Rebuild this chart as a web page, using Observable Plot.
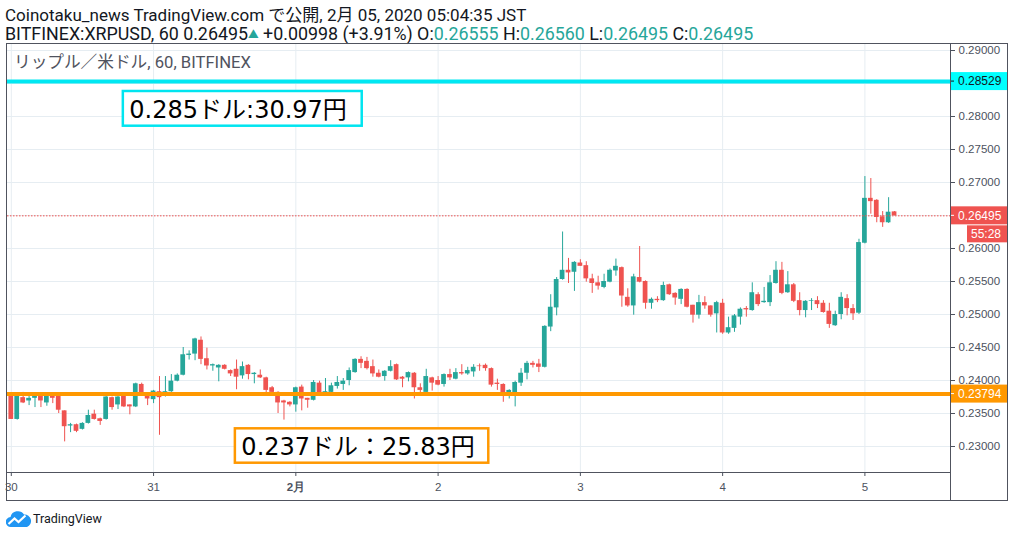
<!DOCTYPE html>
<html><head><meta charset="utf-8">
<script src="https://cdn.jsdelivr.net/npm/d3@7"></script>
<script src="https://cdn.jsdelivr.net/npm/@observablehq/plot@0.6"></script>
<style>
body{margin:0;background:#fff;width:1014px;height:537px;overflow:hidden;position:relative;font-family:Roboto,"Noto Sans CJK JP",sans-serif;}
.hd{position:absolute;left:5px;font-size:15px;line-height:1;color:#131722;white-space:nowrap;}
.g{color:#26a69a;}
#chart{position:absolute;left:0;top:43px;}
.ln{position:absolute;background:#50535e;}
#legend{position:absolute;left:14px;top:54px;font-size:15px;line-height:18px;color:#50535e;white-space:nowrap;}
#foot{position:absolute;left:6px;top:510px;height:18px;}
#foot span{position:absolute;left:27px;top:1px;font-size:12.5px;color:#131722;font-family:Roboto,sans-serif;}
</style></head>
<body>
<div class="hd" id="h1" style="top:6.5px">Coinotaku_news TradingView.com で公開, 2月 05, 2020 05:04:35 JST</div>
<div class="hd" id="h2" style="top:24.5px">BITFINEX:XRPUSD, 60 0.26495<span class="g" style="font-size:0.6em;vertical-align:0.15em">▲</span> +0.00998 (+3.91%) O:<span class="g">0.26555</span> H:<span class="g">0.26560</span> L:<span class="g">0.26495</span> C:<span class="g">0.26495</span></div>
<div id="chart"></div>
<div id="legend">リップル／米ドル, 60, BITFINEX</div>
<div class="ln" style="left:6px;top:43px;width:1002px;height:1px"></div>
<div class="ln" style="left:6px;top:500px;width:1002px;height:1px"></div>
<div class="ln" style="left:6px;top:43px;width:1px;height:458px"></div>
<div class="ln" style="left:1007px;top:43px;width:1px;height:458px"></div>
<div class="ln" style="left:950px;top:43px;width:1px;height:458px"></div>
<div class="ln" style="left:6px;top:472px;width:944px;height:1px"></div>
<div id="foot"><svg width="26" height="18" viewBox="0 0 26 18"><path d="M5 17 a5 5 0 0 1 -0.5 -10 a7.5 7.5 0 0 1 13.5 -2.5 a6.5 6.5 0 0 1 3 12.5 z" fill="#2196f3"/><path d="M2.5 14 L8.5 8.5 L12.5 12 L19.5 5.5" stroke="#fff" stroke-width="2.2" fill="none"/></svg><span>TradingView</span></div>
<script>
// hourly candles, index 0 = 30 Jan 00:00
const open  = [0.2376,0.2341,0.2374,0.2369,0.2373,0.2376,0.2366,0.2376,0.2376,0.2354,0.2331,0.2333,0.2326,0.2335,0.2349,0.2342,0.2341,0.2374,0.2363,0.2376,0.2363,0.2360,0.2394,0.2379,0.2371,0.2383,0.2376,0.2383,0.2399,0.2408,0.2438,0.2440,0.2461,0.2433,0.2422,0.2419,0.2423,0.2415,0.2417,0.2407,0.2423,0.2409,0.2408,0.2404,0.2389,0.2382,0.2369,0.2367,0.2363,0.2390,0.2373,0.2370,0.2396,0.2381,0.2382,0.2391,0.2394,0.2400,0.2412,0.2432,0.2429,0.2421,0.2411,0.2406,0.2414,0.2424,0.2405,0.2404,0.2411,0.2389,0.2382,0.2404,0.2400,0.2394,0.2409,0.2402,0.2412,0.2410,0.2413,0.2422,0.2423,0.2418,0.2396,0.2394,0.2381,0.2381,0.2396,0.2411,0.2426,0.2425,0.2420,0.2481,0.2510,0.2553,0.2567,0.2564,0.2578,0.2574,0.2554,0.2548,0.2541,0.2549,0.2566,0.2571,0.2526,0.2513,0.2556,0.2550,0.2517,0.2523,0.2521,0.2545,0.2532,0.2523,0.2538,0.2514,0.2499,0.2518,0.2513,0.2501,0.2517,0.2472,0.2479,0.2496,0.2509,0.2506,0.2530,0.2518,0.2518,0.2547,0.2567,0.2533,0.2545,0.2521,0.2506,0.2520,0.2521,0.2517,0.2505,0.2483,0.2500,0.2524,0.2509,0.2502,0.2608,0.2676,0.2673,0.2648,0.2639,0.26555];
const high  = [0.2377,0.2377,0.2382,0.2376,0.2377,0.2377,0.2377,0.2377,0.2377,0.2354,0.2335,0.2334,0.2336,0.2355,0.2355,0.2343,0.2376,0.2375,0.2376,0.2377,0.2363,0.2396,0.2396,0.2379,0.2385,0.2406,0.2406,0.2409,0.2410,0.2450,0.2445,0.2464,0.2466,0.2449,0.2425,0.2424,0.2424,0.2416,0.2431,0.2428,0.2424,0.2412,0.2416,0.2405,0.2391,0.2383,0.2370,0.2368,0.2390,0.2393,0.2373,0.2400,0.2399,0.2403,0.2396,0.2406,0.2403,0.2419,0.2433,0.2436,0.2435,0.2431,0.2416,0.2415,0.2430,0.2425,0.2406,0.2413,0.2412,0.2395,0.2417,0.2405,0.2406,0.2410,0.2417,0.2418,0.2424,0.2420,0.2424,0.2425,0.2425,0.2419,0.2402,0.2395,0.2386,0.2399,0.2418,0.2429,0.2429,0.2432,0.2483,0.2530,0.2556,0.2625,0.2585,0.2580,0.2583,0.2580,0.2561,0.2558,0.2561,0.2569,0.2584,0.2572,0.2539,0.2561,0.2603,0.2551,0.2525,0.2527,0.2549,0.2546,0.2533,0.2539,0.2539,0.2514,0.2529,0.2527,0.2513,0.2520,0.2523,0.2496,0.2500,0.2510,0.2512,0.2548,0.2533,0.2541,0.2559,0.2580,0.2579,0.2565,0.2547,0.2533,0.2521,0.2524,0.2527,0.2521,0.2517,0.2505,0.2533,0.2530,0.2515,0.2614,0.2709,0.2706,0.2674,0.2656,0.2677,0.26560];
const low   = [0.2341,0.2340,0.2365,0.2362,0.2359,0.2359,0.2361,0.2365,0.2350,0.2307,0.2321,0.2321,0.2325,0.2334,0.2340,0.2332,0.2340,0.2355,0.2356,0.2359,0.2348,0.2359,0.2378,0.2362,0.2365,0.2317,0.2375,0.2382,0.2398,0.2407,0.2431,0.2430,0.2424,0.2416,0.2414,0.2398,0.2416,0.2406,0.2386,0.2402,0.2401,0.2395,0.2403,0.2381,0.2381,0.2350,0.2340,0.2360,0.2352,0.2354,0.2358,0.2369,0.2380,0.2380,0.2381,0.2387,0.2385,0.2392,0.2411,0.2418,0.2416,0.2405,0.2404,0.2399,0.2413,0.2400,0.2389,0.2398,0.2372,0.2381,0.2381,0.2384,0.2392,0.2390,0.2400,0.2401,0.2408,0.2408,0.2405,0.2414,0.2414,0.2390,0.2385,0.2367,0.2372,0.2360,0.2391,0.2401,0.2419,0.2412,0.2419,0.2474,0.2498,0.2552,0.2547,0.2535,0.2573,0.2549,0.2532,0.2537,0.2539,0.2548,0.2558,0.2511,0.2511,0.2499,0.2548,0.2508,0.2508,0.2518,0.2520,0.2529,0.2514,0.2515,0.2510,0.2487,0.2493,0.2508,0.2496,0.2472,0.2470,0.2470,0.2473,0.2484,0.2496,0.2505,0.2512,0.2517,0.2512,0.2546,0.2530,0.2532,0.2518,0.2498,0.2495,0.2506,0.2509,0.2502,0.2479,0.2482,0.2492,0.2498,0.2491,0.2500,0.2607,0.2652,0.2639,0.2632,0.2638,0.26495];
const close = [0.2341,0.2376,0.2366,0.2373,0.2376,0.2369,0.2376,0.2373,0.2355,0.2330,0.2333,0.2323,0.2335,0.2347,0.2341,0.2338,0.2375,0.2359,0.2375,0.2360,0.2360,0.2395,0.2379,0.2372,0.2384,0.2374,0.2383,0.2399,0.2408,0.2439,0.2440,0.2463,0.2432,0.2422,0.2424,0.2423,0.2417,0.2410,0.2405,0.2421,0.2409,0.2411,0.2404,0.2385,0.2382,0.2366,0.2366,0.2363,0.2389,0.2372,0.2370,0.2397,0.2381,0.2383,0.2392,0.2397,0.2399,0.2415,0.2432,0.2426,0.2418,0.2410,0.2405,0.2414,0.2421,0.2401,0.2402,0.2412,0.2389,0.2385,0.2406,0.2396,0.2393,0.2409,0.2404,0.2412,0.2410,0.2415,0.2420,0.2421,0.2418,0.2393,0.2394,0.2381,0.2385,0.2397,0.2411,0.2426,0.2423,0.2420,0.2482,0.2511,0.2553,0.2567,0.2563,0.2579,0.2573,0.2554,0.2547,0.2543,0.2550,0.2567,0.2573,0.2528,0.2513,0.2557,0.2549,0.2517,0.2523,0.2521,0.2544,0.2530,0.2525,0.2538,0.2511,0.2499,0.2518,0.2513,0.2499,0.2518,0.2472,0.2480,0.2498,0.2508,0.2507,0.2533,0.2515,0.2520,0.2548,0.2567,0.2532,0.2545,0.2520,0.2506,0.2520,0.2521,0.2515,0.2503,0.2485,0.2500,0.2526,0.2509,0.2501,0.2609,0.2676,0.2671,0.2647,0.2639,0.2655,0.26495];

const dayIdx    = [0, 24, 48, 72, 96, 120, 144];
const dayLabels = ["30", "31", "2月", "2", "3", "4", "5"];
const yTicks    = [0.230,0.235,0.240,0.245,0.250,0.255,0.260,0.265,0.270,0.275,0.280,0.285,0.290];

const levelPrice = [0.28529, 0.23794];
const levelColor = ["#00e8f2", "#ff9800"];
const tagBg      = ["#00ffff", "#ff9800"];
const tagFg      = ["#131722", "#ffffff"];
const lastPrice  = 0.26495;
const countdown  = "55:28";

const noteText   = ["0.285ドル:30.97円", "0.237ドル：25.83円"];
const noteX1     = [18.9, 37.8];
const noteX2     = [59.2, 80.55];
const noteTop    = [0.28379, 0.23268];
const noteBottom = [0.27853, 0.22747];
const noteColor  = ["#00e5f0", "#ff9800"];

const UP = "#26a69a", DOWN = "#ef5350";
const candles = open.map((o, i) => ({i, o, h: high[i], l: low[i], c: close[i], col: close[i] >= o ? UP : DOWN}));
const notes = noteText.map((t, k) => ({t, x1: noteX1[k], x2: noteX2[k], y1: noteTop[k], y2: noteBottom[k], col: noteColor[k]}));
const levels = levelPrice.map((p, k) => ({p, col: levelColor[k]}));
// axis labels hidden behind the price tags (as TradingView does)
const tagPrices = [...levelPrice, lastPrice];
const yLabelTicks = yTicks.filter(t => tagPrices.every(p => Math.abs(p - t) > 0.0015));

const chart = Plot.plot({
  width: 1014, height: 458,
  marginTop: 0, marginBottom: 29, marginLeft: 7, marginRight: 64,
  style: {fontFamily: "'Liberation Sans', Arial, sans-serif", fontSize: "11.5px", color: "#4c525e", background: "transparent", overflow: "visible"},
  color: {type: "identity"},
  x: {domain: [-0.641, 158.44], ticks: dayIdx, tickFormat: d => dayLabels[dayIdx.indexOf(d)], tickSize: 4, tickPadding: 6, label: null},
  y: {domain: [0.226061, 0.291061], axis: "right", ticks: yLabelTicks, tickFormat: d3.format(".5f"), tickSize: 4, tickPadding: 4, label: null},
  marks: [
    Plot.ruleY(yTicks, {stroke: "#e6edf2"}),
    Plot.ruleX(dayIdx, {stroke: "#e6edf2"}),
    Plot.ruleX(candles, {x: "i", y1: "l", y2: "h", stroke: "col", strokeWidth: 1}),
    Plot.rect(candles, {x1: d => d.i - 0.4, x2: d => d.i + 0.4, y1: "o", y2: "c", fill: "col"}),
    Plot.rect(notes, {x1: "x1", x2: "x2", y1: "y1", y2: "y2", fill: "white", stroke: "col", strokeWidth: 2.5}),
    Plot.text(notes, {x: "x1", y: d => (d.y1 + d.y2) / 2, text: "t", textAnchor: "start", dx: 6, dy: 1, fontSize: 24, fontFamily: "'DejaVu Sans','Noto Sans CJK JP',sans-serif", fill: "#000"}),
    Plot.ruleY(levels, {y: "p", stroke: "col", strokeWidth: 4}),
    Plot.ruleY([lastPrice], {stroke: DOWN, strokeWidth: 1, strokeDasharray: "1.5,1.5"})
  ]
});

const svg = d3.select(chart);
svg.selectAll("text").filter(function(){ return this.textContent === "2月"; }).attr("font-weight", "bold");

const ys = chart.scale("y");
const yf = d3.scaleLinear(ys.domain, ys.range);
const ax = 1014 - 64;
const tags = svg.append("g").attr("text-anchor", "start");
function tag(p, bg, fg, label) {
  const y = yf(p);
  const g = tags.append("g");
  g.append("rect").attr("x", ax).attr("y", y - 9).attr("width", 57).attr("height", 18).attr("fill", bg);
  g.append("line").attr("x1", ax).attr("x2", ax + 4).attr("y1", y).attr("y2", y).attr("stroke", fg);
  g.append("text").attr("x", ax + 8).attr("y", y).attr("dy", "0.35em").attr("fill", fg).attr("text-anchor", "start")
    .attr("font-size", 12).attr("font-family", "'Liberation Sans', Arial, sans-serif").text(label);
  return y;
}
levelPrice.forEach((p, k) => tag(p, tagBg[k], tagFg[k], d3.format(".5f")(p)));
const yl = tag(lastPrice, DOWN, "#fff", d3.format(".5f")(lastPrice));
tags.append("rect").attr("x", ax + 17).attr("y", yl + 10).attr("width", 40).attr("height", 17).attr("fill", DOWN);
tags.append("text").attr("x", ax + 21).attr("y", yl + 18.5).attr("dy", "0.35em").attr("fill", "#fff").attr("text-anchor", "start")
  .attr("font-size", 12).attr("font-family", "'Liberation Sans', Arial, sans-serif").text(countdown);

document.getElementById("chart").appendChild(chart);

// fit header and legend text to the reference widths
function fitWidth(id, target) {
  const el = document.getElementById(id);
  const w = el.getBoundingClientRect().width;
  const fs = parseFloat(getComputedStyle(el).fontSize);
  el.style.fontSize = (fs * target / w) + "px";
}
fitWidth("h1", 522);
fitWidth("h2", 749);
fitWidth("legend", 237);
</script>
</body></html>
